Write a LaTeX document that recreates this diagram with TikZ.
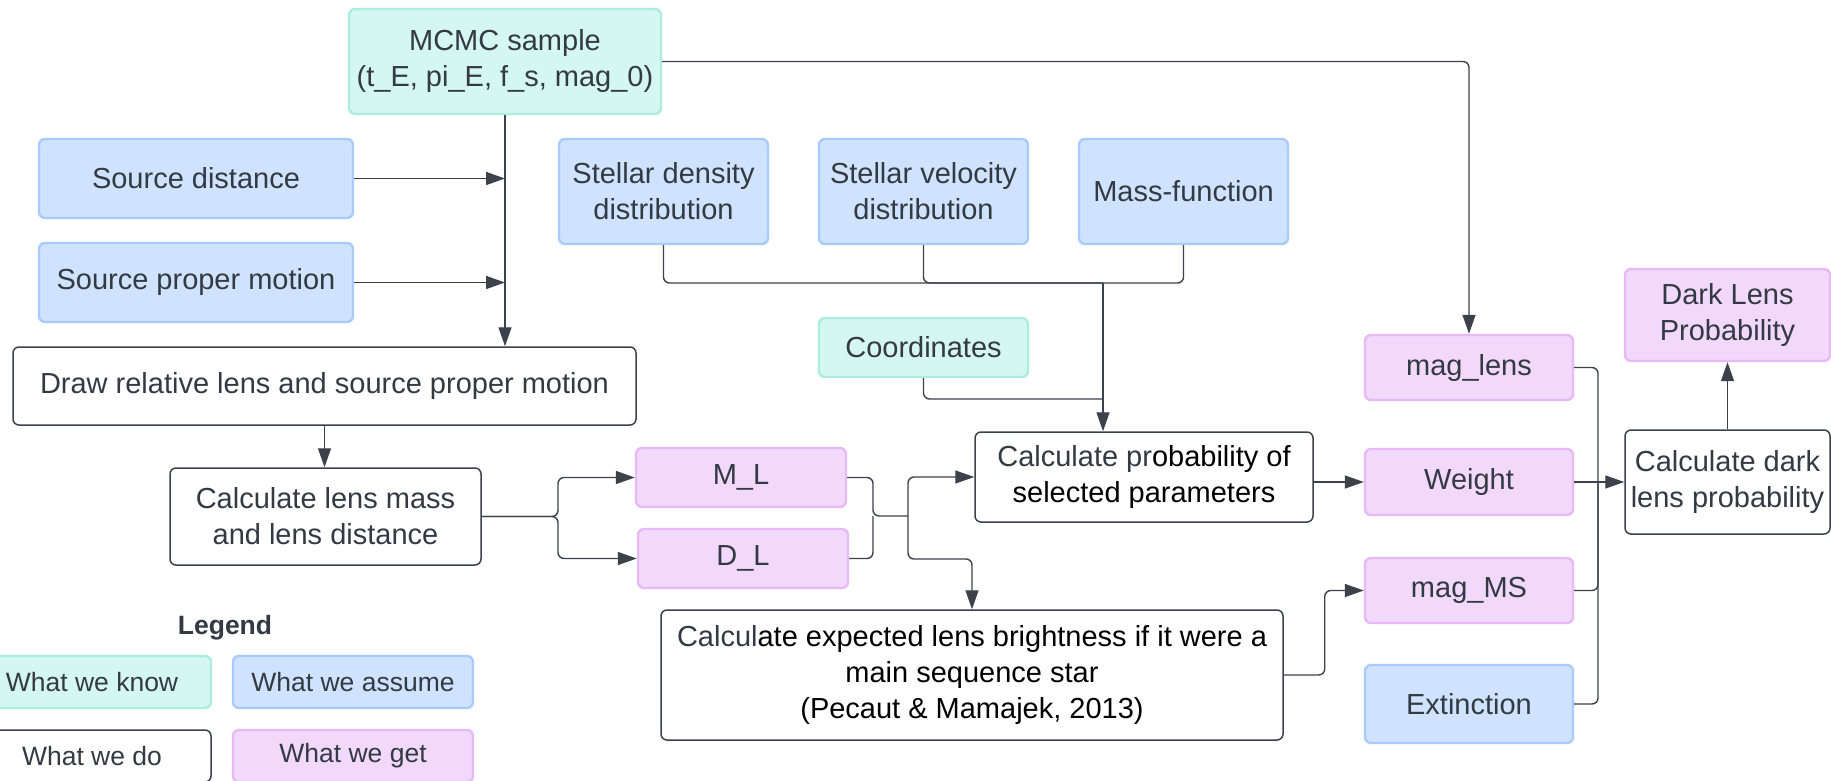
\documentclass[tikz,border=0pt]{standalone}
\usepackage{fontspec}
\setmainfont{Liberation Sans}
\usetikzlibrary{arrows.meta}
\definecolor{txt}{HTML}{333A44}
\definecolor{ln}{HTML}{3C424B}
\definecolor{knowF}{HTML}{D5F7F1}
\definecolor{knowD}{HTML}{ABEEDF}
\definecolor{assF}{HTML}{CFE3FE}
\definecolor{assD}{HTML}{A9CBF9}
\definecolor{getF}{HTML}{F2D8FB}
\definecolor{getD}{HTML}{E7B9F5}
\tikzset{
 base/.style={rectangle, rounded corners=3pt, inner sep=0pt, align=center, text=txt, font=\fontsize{14.5pt}{18pt}\selectfont},
 knowbox/.style={base, fill=knowF, draw=knowD, line width=1.2pt},
 assumebox/.style={base, fill=assF, draw=assD, line width=1.2pt},
 getbox/.style={base, fill=getF, draw=getD, line width=1.2pt},
 dobox/.style={base, fill=white, draw=ln, line width=0.75pt},
 legfont/.style={font=\fontsize{13.25pt}{16pt}\selectfont},
 conn/.style={draw=ln, line width=0.7pt, rounded corners=3pt},
 arr/.style={conn, -{Triangle[length=9.5pt,width=6.5pt]}},
}
\newcommand\bx[7]{\node[#2, minimum width={(#5-(#3))*0.5pt}, minimum height={(#6-(#4))*0.5pt}] (#1) at ({(#3+#5)/2},{(#4+#6)/2}) {#7};}
\begin{document}
\begin{tikzpicture}[x=0.5pt,y=-0.5pt]
\clip (0,0) rectangle (1831,781);
\fill[white] (0,0) rectangle (1831,781);
% boxes
\bx{mcmc}{knowbox}{349}{9}{661}{114}{MCMC sample\\(t\_E, pi\_E, f\_s, mag\_0)}
\bx{srcdist}{assumebox}{39}{139}{353}{218}{Source distance}
\bx{srcpm}{assumebox}{39}{243}{353}{322}{Source proper motion}
\bx{sd}{assumebox}{559}{139}{768}{244}{Stellar density\\distribution}
\bx{sv}{assumebox}{819}{139}{1028}{244}{Stellar velocity\\distribution}
\bx{mf}{assumebox}{1079}{139}{1288}{244}{Mass-function}
\bx{draw}{dobox}{13}{347}{636}{425}{Draw relative lens and source proper motion}
\bx{lm}{dobox}{170}{468}{481}{565}{Calculate lens mass\\and lens distance}
\bx{co}{knowbox}{819}{318}{1028}{377}{Coordinates}
\bx{mL}{getbox}{636}{448}{846}{507}{M\_L}
\bx{dL}{getbox}{638}{529}{848}{588}{D\_L}
\bx{cp}{dobox,text=black}{975}{432}{1313}{522}{\textcolor{txt}{Calculate pr}obability of\\selected parameters}
\bx{ce}{dobox,text=black}{661}{610}{1283}{740}{\textcolor{txt}{Calcul}ate expected lens brightness if it were a\\main sequence star\\(Pecaut \& Mamajek, 2013)}
\bx{mlens}{getbox}{1365}{335}{1573}{400}{mag\_lens}
\bx{w}{getbox}{1365}{449}{1573}{515}{Weight}
\bx{ms}{getbox}{1365}{558}{1573}{623}{mag\_MS}
\bx{ext}{assumebox}{1365}{665}{1573}{743}{Extinction}
\bx{cd}{dobox}{1625}{430}{1830}{534}{Calculate dark\\lens probability}
\bx{dlp}{getbox}{1625}{269}{1830}{361}{Dark Lens\\Probability}
% legend
\node[text=txt, font=\bfseries\fontsize{13.25pt}{16pt}\selectfont] (leg) at (225,628) {Legend};
\bx{lk}{knowbox,legfont}{-27}{656}{211}{708}{What we know}
\bx{la}{assumebox,legfont}{233}{656}{473}{708}{What we assume}
\bx{ld}{dobox,legfont}{-27}{730}{211}{782}{What we do}
\bx{lg}{getbox,legfont}{233}{730}{473}{782}{What we get}
% connectors
\draw[arr] (mcmc.south) -- (mcmc.south |- draw.north);
\draw[arr] (srcdist.east) -- (srcdist.east -| mcmc.south);
\draw[arr] (srcpm.east) -- (srcpm.east -| mcmc.south);
\draw[arr] (draw.south) -- (draw.south |- lm.north);
\coordinate (f1) at (558,516.5);
\draw[arr] (lm.east) -- (f1) |- (mL.west);
\draw[arr] (lm.east) -- (f1) |- (dL.west);
\coordinate (j1) at (873,516);
\coordinate (j2) at (908,516);
\draw[conn] (mL.east) -| (j1) -- (j2);
\draw[conn] (dL.east) -| (j1);
\draw[arr] (j2) |- (cp.west);
\coordinate (b1) at (972,559);
\draw[arr] (j2) |- (b1) -- (ce.north);
\coordinate (jn) at (1103,283);
\draw[conn] (sd.south) |- (jn);
\draw[conn] (sv.south) |- (jn);
\draw[conn] (mf.south) |- (jn);
\coordinate (jc) at (1103,399);
\draw[conn] (co.south) |- (jc);
\draw[arr] (jn) -- (jn |- cp.north);
\draw[arr] (mcmc.east) -| (mlens.north);
\draw[arr] (cp.east |- w.west) -- (w.west);
\draw[arr] (ce.east) -- ++(41,0) |- (ms.west);
\coordinate (m) at (1598,482);
\draw[conn] (mlens.east) -| (m);
\draw[conn] (ms.east) -| (m);
\draw[conn] (ext.east) -| (m);
\draw[arr] (w.east) -- (cd.west);
\draw[arr] (cd.north) -- (dlp.south);
\end{tikzpicture}
\end{document}
